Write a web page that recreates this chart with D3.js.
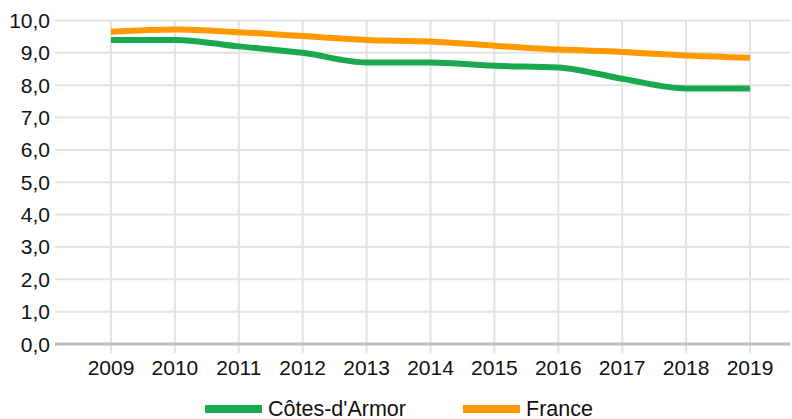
<!DOCTYPE html>
<html><head><meta charset="utf-8">
<script src="https://cdn.jsdelivr.net/npm/d3@7"></script>
<style>body{margin:0;background:#fff}text{font-family:"Liberation Sans",Arial,sans-serif;fill:#111}</style>
</head><body><svg id="c" width="792" height="419"></svg>
<script>
const years = [2009,2010,2011,2012,2013,2014,2015,2016,2017,2018,2019];
const cotes = [9.4,9.4,9.2,9.0,8.7,8.7,8.6,8.55,8.2,7.9,7.9];
const france = [9.65,9.72,9.64,9.52,9.4,9.35,9.22,9.1,9.03,8.92,8.85];
const yTicks = [0,1,2,3,4,5,6,7,8,9,10];
const seriesNames = ["Côtes-d'Armor","France"];
const colors = ["#1ba94f","#ff9900"];

const svg = d3.select("#c");
const x = d3.scaleLinear().domain([2009,2019]).range([111,750]);
const y = d3.scaleLinear().domain([0,10]).range([344,20.5]);
const left = 55, right = 790;

const g = svg.append("g");
g.selectAll(".hg").data(yTicks.filter(d=>d>0)).enter().append("line")
  .attr("x1",left).attr("x2",right).attr("y1",d=>y(d)).attr("y2",d=>y(d))
  .attr("stroke","#e3e3e3").attr("stroke-width",2);
g.selectAll(".vg").data(years).enter().append("line")
  .attr("x1",d=>x(d)).attr("x2",d=>x(d)).attr("y1",y(10)).attr("y2",353)
  .attr("stroke","#e3e3e3").attr("stroke-width",2);
g.append("line").attr("x1",left).attr("x2",right).attr("y1",y(0)).attr("y2",y(0))
  .attr("stroke","#bdbdbd").attr("stroke-width",3);

g.selectAll(".yl").data(yTicks).enter().append("text")
  .attr("x",50).attr("y",d=>y(d)+7.5).attr("text-anchor","end")
  .style("font-size","21px").text(d=>d3.format(".1f")(d).replace(".",","));
g.selectAll(".xl").data(years).enter().append("text")
  .attr("x",d=>x(d)).attr("y",375).attr("text-anchor","middle")
  .style("font-size","21px").text(d=>d);

const line = d3.line().x((d,i)=>x(years[i])).y(d=>y(d)).curve(d3.curveMonotoneX);
[france, cotes].forEach((s,k)=>{
  const idx = k===0?1:0;
  g.append("path").attr("d",line(s)).attr("fill","none")
    .attr("stroke",colors[idx]).attr("stroke-width",6).attr("stroke-linejoin","round");
});

const leg = [{x:205},{x:463}];
seriesNames.forEach((n,i)=>{
  svg.append("rect").attr("x",leg[i].x).attr("y",405).attr("width",57).attr("height",8).attr("fill",colors[i]);
  svg.append("text").attr("x",leg[i].x+63).attr("y",415.5).style("font-size","21.5px").text(n);
});
</script></body></html>
